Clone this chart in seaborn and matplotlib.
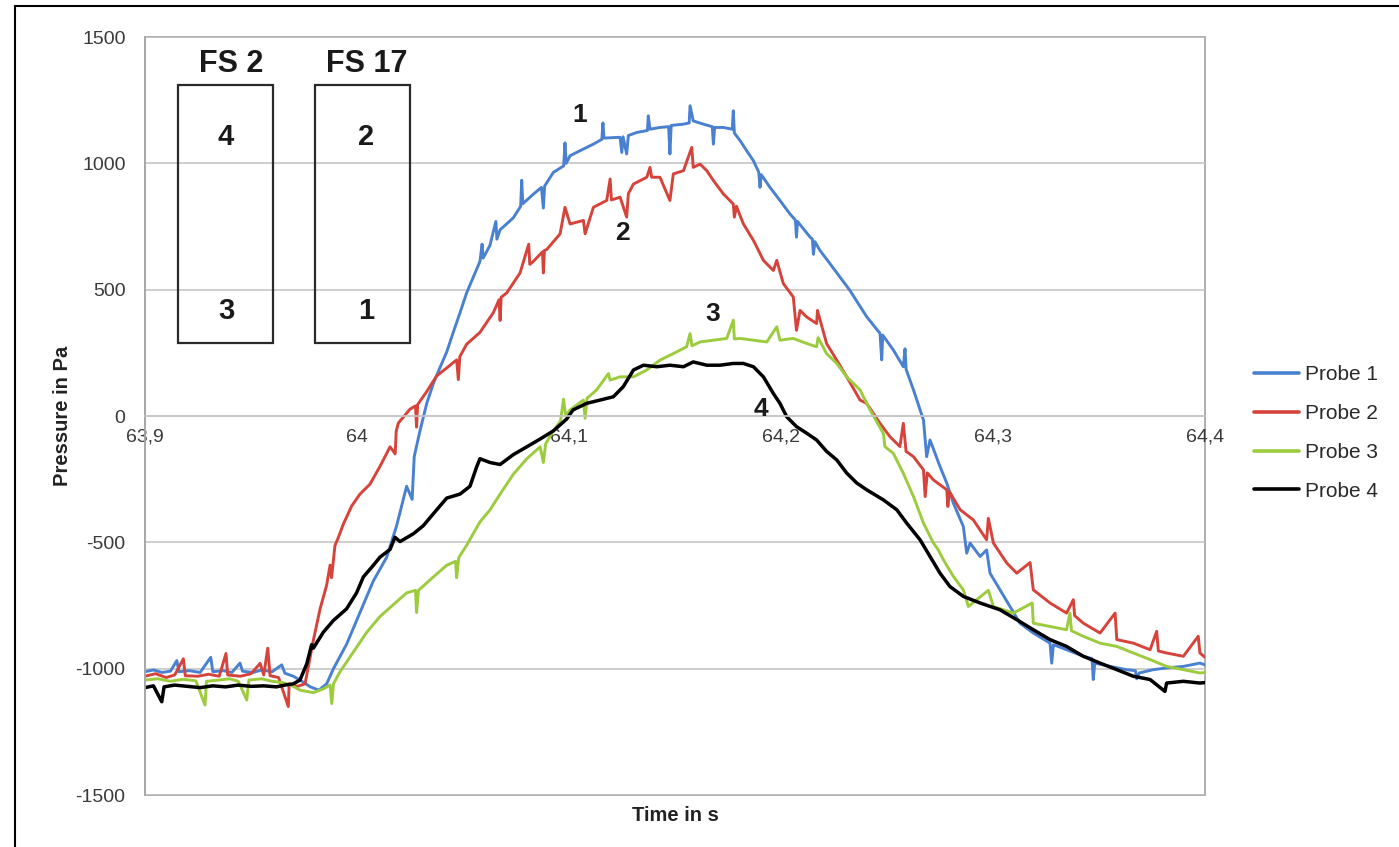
import matplotlib
matplotlib.use("Agg")
import matplotlib.pyplot as plt
from matplotlib.patches import Rectangle
from matplotlib.lines import Line2D
import seaborn as sns
import pandas as pd

# ---------------- data ----------------
probe_names = ["Probe 1", "Probe 2", "Probe 3", "Probe 4"]
probe_colors = ["#4a80d0", "#d6433b", "#9ccb3e", "#000000"]

x_ticks = [63.9, 64.0, 64.1, 64.2, 64.3, 64.4]
x_tick_labels = ["63,9", "64", "64,1", "64,2", "64,3", "64,4"]
y_ticks = [-1500, -1000, -500, 0, 500, 1000, 1500]
y_tick_labels = ["-1500", "-1000", "-500", "0", "500", "1000", "1500"]

probe1_points = [(63.900,-1012),(63.904,-1005),(63.908,-1015),(63.912,-1010),(63.915,-968),(63.916,-1012),(63.921,-1008),(63.926,-1015),(63.931,-955),(63.932,-1012),(63.937,-1008),(63.941,-1015),(63.9448,-978),(63.946,-1010),(63.951,-1015),(63.955,-1005),(63.960,-1012),(63.9645,-985),(63.966,-1018),(63.970,-1030),(63.974,-1050),(63.978,-1072),(63.982,-1085),(63.9857,-1060),(63.9889,-1000),(63.9951,-903),(64.0014,-778),(64.0077,-653),(64.0140,-559),(64.0187,-434),(64.0234,-278),(64.0260,-330),(64.0270,-160),(64.0297,-59),(64.0329,50),(64.0360,128),(64.0391,191),(64.0423,253),(64.0454,331),(64.0486,409),(64.0517,487),(64.0549,550),(64.0580,612),(64.0590,680),(64.0595,625),(64.0627,675),(64.0655,770),(64.0660,700),(64.0675,737),(64.0737,784),(64.0772,830),(64.0777,933),(64.0782,840),(64.0832,878),(64.0870,905),(64.0879,823),(64.0885,910),(64.0926,964),(64.0975,990),(64.0981,1081),(64.0987,1000),(64.1005,1030),(64.1052,1050),(64.1115,1076),(64.1155,1095),(64.1160,1160),(64.1165,1100),(64.1241,1103),(64.1249,1043),(64.1255,1105),(64.1272,1037),(64.1280,1110),(64.1319,1122),(64.1370,1130),(64.1374,1188),(64.1382,1135),(64.1429,1142),(64.1470,1145),(64.1476,1037),(64.1482,1150),(64.1540,1155),(64.1567,1160),(64.1571,1228),(64.1586,1168),(64.1634,1155),(64.1676,1145),(64.1681,1076),(64.1687,1142),(64.1728,1142),(64.1770,1135),(64.1775,1208),(64.1780,1120),(64.1807,1090),(64.1838,1050),(64.1870,1010),(64.1895,965),(64.1901,905),(64.1907,955),(64.1948,905),(64.1995,853),(64.2042,800),(64.2068,775),(64.2073,708),(64.2078,770),(64.2137,708),(64.2148,700),(64.2153,640),(64.2160,690),(64.2184,655),(64.2231,603),(64.2278,550),(64.2325,497),(64.2404,393),(64.2467,327),(64.2475,222),(64.2480,320),(64.2530,261),(64.2577,195),(64.2585,266),(64.2590,185),(64.2625,103),(64.2672,-16),(64.2687,-161),(64.2703,-95),(64.2750,-200),(64.2782,-266),(64.2813,-345),(64.2860,-437),(64.2876,-543),(64.2892,-503),(64.2939,-556),(64.2970,-530),(64.2986,-622),(64.3033,-688),(64.3080,-754),(64.3127,-820),(64.3190,-859),(64.3269,-899),(64.3277,-978),(64.3285,-905),(64.3347,-925),(64.3426,-951),(64.3467,-960),(64.3473,-1043),(64.3480,-978),(64.3552,-991),(64.3630,-1004),(64.3672,-1008),(64.3678,-1040),(64.3690,-1017),(64.3756,-1004),(64.3819,-997),(64.3898,-991),(64.3976,-978),(64.4000,-985)]

probe2_points = [(63.900,-1030),(63.905,-1020),(63.910,-1035),(63.914,-1025),(63.9181,-961),(63.919,-1028),(63.925,-1030),(63.930,-1022),(63.935,-1030),(63.9382,-940),(63.939,-1025),(63.945,-1030),(63.950,-1020),(63.9543,-979),(63.956,-1025),(63.9579,-919),(63.959,-1028),(63.963,-1035),(63.9676,-1150),(63.968,-1060),(63.972,-1070),(63.9755,-1060),(63.9794,-888),(63.9826,-763),(63.9857,-669),(63.9873,-590),(63.9880,-640),(63.9896,-513),(63.9912,-481),(63.9936,-427),(63.9975,-356),(64.0014,-309),(64.0061,-270),(64.0108,-200),(64.0156,-122),(64.0180,-150),(64.0185,-60),(64.0195,-28),(64.0250,27),(64.0276,40),(64.0281,-44),(64.0286,45),(64.0329,97),(64.0376,159),(64.0423,190),(64.0470,222),(64.0478,144),(64.0485,235),(64.0517,284),(64.0580,331),(64.0643,409),(64.0670,460),(64.0675,378),(64.0680,470),(64.0706,487),(64.0769,566),(64.0810,680),(64.0815,600),(64.0832,612),(64.0875,650),(64.0879,566),(64.0884,655),(64.0895,659),(64.0958,721),(64.0981,826),(64.1005,760),(64.1068,774),(64.1076,721),(64.1115,826),(64.1178,853),(64.1194,938),(64.1200,855),(64.1241,866),(64.1272,787),(64.1280,880),(64.1304,918),(64.1367,945),(64.1382,984),(64.1390,945),(64.1429,945),(64.1476,853),(64.1492,958),(64.1540,971),(64.1579,1063),(64.1586,984),(64.1618,997),(64.1650,971),(64.1681,932),(64.1728,879),(64.1775,839),(64.1780,787),(64.1790,830),(64.1822,761),(64.1870,695),(64.1917,616),(64.1964,576),(64.1980,616),(64.2011,524),(64.2058,471),(64.2073,339),(64.2090,418),(64.2121,392),(64.2168,366),(64.2172,418),(64.2215,287),(64.2263,221),(64.2310,155),(64.2373,63),(64.2404,50),(64.2467,-29),(64.2514,-82),(64.2561,-121),(64.2577,-29),(64.2590,-140),(64.2625,-161),(64.2672,-213),(64.2680,-319),(64.2690,-225),(64.2719,-253),(64.2782,-292),(64.2787,-358),(64.2795,-300),(64.2845,-371),(64.2907,-411),(64.2970,-490),(64.2978,-405),(64.3002,-503),(64.3065,-582),(64.3112,-622),(64.3175,-580),(64.3190,-688),(64.3269,-740),(64.3347,-780),(64.3379,-727),(64.3385,-790),(64.3426,-820),(64.3505,-859),(64.3576,-780),(64.3584,-885),(64.3662,-899),(64.3741,-925),(64.3772,-852),(64.3780,-930),(64.3819,-938),(64.3898,-951),(64.3968,-872),(64.3976,-938),(64.4000,-955)]

probe3_points = [(63.900,-1045),(63.906,-1040),(63.912,-1050),(63.918,-1042),(63.924,-1048),(63.9283,-1144),(63.929,-1050),(63.935,-1045),(63.940,-1040),(63.944,-1050),(63.9480,-1124),(63.949,-1045),(63.955,-1040),(63.960,-1050),(63.965,-1055),(63.970,-1070),(63.9731,-1085),(63.9794,-1095),(63.9841,-1080),(63.9873,-1065),(63.9881,-1138),(63.9889,-1060),(63.9920,-1012),(63.9983,-934),(64.0046,-856),(64.0108,-794),(64.0171,-747),(64.0234,-700),(64.0276,-690),(64.0281,-778),(64.0290,-690),(64.0360,-637),(64.0423,-591),(64.0465,-575),(64.0470,-640),(64.0480,-560),(64.0517,-512),(64.0580,-419),(64.0627,-372),(64.0675,-309),(64.0737,-231),(64.0801,-169),(64.0864,-122),(64.0879,-184),(64.0890,-110),(64.0926,-59),(64.0960,-20),(64.0974,66),(64.0985,0),(64.1005,24),(64.1068,63),(64.1076,-9),(64.1085,70),(64.1130,103),(64.1186,168),(64.1194,142),(64.1241,155),(64.1304,155),(64.1367,182),(64.1429,221),(64.1492,247),(64.1555,274),(64.1571,326),(64.1580,278),(64.1618,293),(64.1681,300),(64.1744,307),(64.1775,379),(64.1780,305),(64.1807,307),(64.1870,300),(64.1933,293),(64.1980,353),(64.1995,300),(64.2058,307),(64.2121,287),(64.2168,274),(64.2175,310),(64.2215,247),(64.2263,208),(64.2310,155),(64.2373,103),(64.2420,24),(64.2483,-69),(64.2490,-121),(64.2530,-148),(64.2577,-227),(64.2625,-319),(64.2672,-424),(64.2719,-503),(64.2742,-530),(64.2766,-569),(64.2813,-635),(64.2860,-688),(64.2884,-754),(64.2923,-727),(64.2978,-690),(64.3002,-754),(64.3096,-780),(64.3185,-740),(64.3190,-820),(64.3269,-833),(64.3347,-846),(64.3363,-780),(64.3370,-850),(64.3426,-872),(64.3505,-899),(64.3584,-912),(64.3662,-938),(64.3741,-964),(64.3819,-991),(64.3898,-1004),(64.3976,-1017),(64.4000,-1015)]

probe4_points = [(63.900,-1075),(63.904,-1068),(63.9079,-1131),(63.909,-1072),(63.914,-1065),(63.920,-1070),(63.926,-1075),(63.932,-1068),(63.938,-1072),(63.944,-1065),(63.950,-1070),(63.956,-1068),(63.962,-1072),(63.966,-1065),(63.970,-1060),(63.9731,-1045),(63.9763,-981),(63.9786,-905),(63.9794,-919),(63.9841,-856),(63.9889,-809),(63.9951,-763),(63.9998,-700),(64.0030,-637),(64.0077,-591),(64.0108,-559),(64.0156,-528),(64.0179,-480),(64.0203,-497),(64.0266,-466),(64.0313,-434),(64.0360,-387),(64.0423,-325),(64.0486,-309),(64.0533,-278),(64.0565,-200),(64.0580,-169),(64.0627,-184),(64.0675,-192),(64.0737,-153),(64.0801,-122),(64.0864,-91),(64.0926,-59),(64.0989,-12),(64.1019,24),(64.1083,50),(64.1146,63),(64.1209,76),(64.1256,116),(64.1304,182),(64.1351,201),(64.1414,195),(64.1476,201),(64.1540,195),(64.1586,214),(64.1650,201),(64.1712,201),(64.1775,208),(64.1822,208),(64.1870,195),(64.1917,155),(64.1964,89),(64.1995,50),(64.2027,-3),(64.2073,-42),(64.2121,-68),(64.2168,-95),(64.2215,-140),(64.2263,-174),(64.2310,-226),(64.2357,-265),(64.2404,-292),(64.2483,-332),(64.2546,-371),(64.2593,-424),(64.2656,-490),(64.2703,-556),(64.2750,-622),(64.2797,-675),(64.2860,-714),(64.2939,-740),(64.3033,-767),(64.3112,-806),(64.3190,-846),(64.3269,-885),(64.3347,-912),(64.3426,-951),(64.3505,-978),(64.3584,-1004),(64.3662,-1030),(64.3741,-1043),(64.3811,-1090),(64.3819,-1057),(64.3898,-1050),(64.3976,-1057),(64.4000,-1055)]

# ---------------- style ----------------
sns.set_style("white")
plt.rcParams["font.family"] = ["Liberation Sans", "DejaVu Sans"]

W, H = 1399, 847
fig = plt.figure(figsize=(W / 100, H / 100), dpi=100)
ax_l, ax_r, ax_t, ax_b = 145, 1205, 37, 795
ax = fig.add_axes([ax_l / W, 1 - ax_b / H, (ax_r - ax_l) / W, (ax_b - ax_t) / H])

series = [probe1_points, probe2_points, probe3_points, probe4_points]
widths = [2.1, 2.1, 2.1, 2.5]
for name, pts, col, lw in zip(probe_names, series, probe_colors, widths):
    df = pd.DataFrame(pts, columns=["Time", "Pressure"])
    sns.lineplot(data=df, x="Time", y="Pressure", ax=ax, color=col,
                 linewidth=lw, sort=False, estimator=None, legend=False)

ax.set_xlim(63.9, 64.4)
ax.set_ylim(-1500, 1500)

grid_col = "#c6c6c6"
ax.set_yticks(y_ticks)
ax.set_yticklabels(y_tick_labels)
ax.yaxis.grid(True, color=grid_col, linewidth=1.2)
ax.xaxis.grid(False)
ax.set_axisbelow(True)

ax.set_xticks(x_ticks)
ax.set_xticklabels(x_tick_labels)

for s in ["top", "right"]:
    ax.spines[s].set_visible(False)
ax.spines["left"].set_color("#a8a8a8")
ax.spines["left"].set_linewidth(1.3)
ax.spines["bottom"].set_position(("data", 0))
ax.spines["bottom"].set_color(grid_col)
ax.spines["bottom"].set_linewidth(1.2)
ax.add_patch(Rectangle((0, 0), 1, 1, transform=ax.transAxes, fill=False,
                       edgecolor="#a8a8a8", linewidth=1.3, clip_on=False, zorder=0.5))

ax.tick_params(axis="y", length=4, width=1, color="#a8a8a8", pad=10,
               labelsize=14, labelcolor="#3a3a3a")
ax.tick_params(axis="x", length=0, pad=9, labelsize=14, labelcolor="#3a3a3a")

ax.set_xlabel("Time in s", fontsize=14.5, fontweight="bold", color="#222222")
ax.set_ylabel("Pressure in Pa", fontsize=14.5, fontweight="bold", color="#222222")
ax.xaxis.set_label_coords(0.5, -0.014)
ax.yaxis.set_label_coords(-0.069, 0.5)

# ---------------- inset sketch boxes ----------------
def ax_x(px):
    return (px - ax_l) / (ax_r - ax_l)

def ax_y(py):
    return (ax_b - py) / (ax_b - ax_t)

box_col = "#2a2a2a"
for x0, x1 in [(178, 273), (315, 410)]:
    ax.add_patch(Rectangle((ax_x(x0), ax_y(343)), ax_x(x1) - ax_x(x0), ax_y(85) - ax_y(343),
                           transform=ax.transAxes, fill=False, edgecolor=box_col,
                           linewidth=1.6, zorder=3))

txt_kw = dict(transform=ax.transAxes, ha="center", va="center",
              fontweight="bold", color="#1a1a1a", zorder=4)
ax.text(ax_x(231), ax_y(64), "FS 2", fontsize=22, **txt_kw)
ax.text(ax_x(367), ax_y(64), "FS 17", fontsize=22, **txt_kw)
ax.text(ax_x(226), ax_y(137), "4", fontsize=21, **txt_kw)
ax.text(ax_x(226), ax_y(311), "3", fontsize=21, **txt_kw)
ax.text(ax_x(366), ax_y(137), "2", fontsize=21, **txt_kw)
ax.text(ax_x(366), ax_y(311), "1", fontsize=21, **txt_kw)

# curve labels
ax.text(ax_x(580), ax_y(115), "1", fontsize=19, **txt_kw)
ax.text(ax_x(622), ax_y(233), "2", fontsize=19, **txt_kw)
ax.text(ax_x(713), ax_y(314), "3", fontsize=19, **txt_kw)
ax.text(ax_x(761), ax_y(409), "4", fontsize=19, **txt_kw)

# ---------------- legend ----------------
handles = [Line2D([0], [0], color=c, linewidth=2.6) for c in probe_colors]
fig.legend(handles, probe_names, loc="center left",
           bbox_to_anchor=(1254 / W, 1 - 433 / H), frameon=False,
           fontsize=15, handlelength=2.15, handletextpad=0.3,
           labelspacing=0.95, borderpad=0, borderaxespad=0,
           labelcolor="#2a2a2a")

# ---------------- outer border (left and top edge) ----------------
fig.add_artist(Line2D([15 / W, 15 / W], [0, 1 - 6 / H], color="black",
                      linewidth=1.5, transform=fig.transFigure))
fig.add_artist(Line2D([15 / W, 1], [1 - 6 / H, 1 - 6 / H], color="black",
                      linewidth=1.5, transform=fig.transFigure))

fig.savefig("out.png", dpi=100)
